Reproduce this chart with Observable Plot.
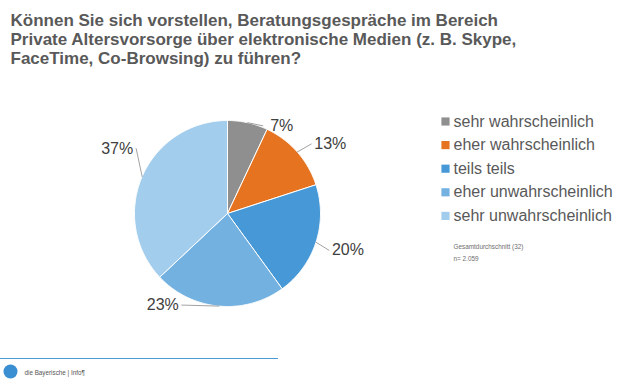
<!DOCTYPE html>
<html><head><meta charset="utf-8">
<script src="https://cdn.jsdelivr.net/npm/d3@7"></script>
<script src="https://cdn.jsdelivr.net/npm/@observablehq/plot@0.6"></script>
<style>
body{margin:0;background:#fff;}
#chart svg{display:block;font-family:"Liberation Sans",Arial,sans-serif;}
</style>
</head><body><div id="chart"></div>
<script>
const categories = ["sehr wahrscheinlich","eher wahrscheinlich","teils teils","eher unwahrscheinlich","sehr unwahrscheinlich"];
const values = [7,13,20,23,37];
const colors = ["#8f8f8f","#e5731f","#4699d6","#72b1e0","#a3cdec"];
const titleLines = [
  "Können Sie sich vorstellen, Beratungsgespräche im Bereich",
  "Private Altersvorsorge über elektronische Medien (z. B. Skype,",
  "FaceTime, Co-Browsing) zu führen?"
];
const noteLines = ["Gesamtdurchschnitt (32)","n= 2.059"];
const footerText = "die Bayerische | Info¶";

// layout
const W = 621, H = 383;
const cx = 227, cy = 213, R = 93;
// label nudges relative to slice edge (layout only)
const labelDx = [34, 33, 32, -56, -25];
const labelDy = [3, -8, 8, -1, -28];

const pie = d3.pie().sort(null).value(d => d.value)(categories.map((c,i)=>({cat:c,value:values[i]})));
const polys = [];
pie.forEach(s => {
  polys.push({cat:s.data.cat, x:cx, y:cy});
  const n = Math.max(2, Math.ceil((s.endAngle - s.startAngle) / 0.01));
  for (let k=0;k<=n;k++){
    const a = s.startAngle + (s.endAngle - s.startAngle)*k/n;
    polys.push({cat:s.data.cat, x:cx + R*Math.sin(a), y:cy - R*Math.cos(a)});
  }
  polys.push({cat:s.data.cat, x:cx, y:cy});
});
const labels = pie.map((s,i) => {
  const a = (s.startAngle + s.endAngle)/2;
  const ex = cx + R*Math.sin(a), ey = cy - R*Math.cos(a);
  const lx = ex + labelDx[i], ly = ey + labelDy[i];
  const side = labelDx[i] > 0 ? -1 : 1;
  return {cat:s.data.cat, text: s.data.value + "%", ex, ey, lx, ly, nx: lx + side*19, ny: ly};
});
const leaders = labels.flatMap(l => [{cat:l.cat,x:l.ex,y:l.ey},{cat:l.cat,x:l.nx,y:l.ny}]);
const legend = categories.map((c,i)=>({cat:c, i}));

const chart = Plot.plot({
  width: W, height: H,
  margin: 0,
  x: {domain:[0,W], range:[0,W], axis:null},
  y: {domain:[0,H], range:[0,H], axis:null},
  color: {domain: categories, range: colors},
  marks: [
    Plot.text(titleLines, {x: 10, y: (d,i)=> 25 + i*19, text: d=>d, textAnchor:"start", lineAnchor:"bottom", fontSize:17, fontWeight:"bold", fill:"#595959"}),
    Plot.line(polys, {x:"x", y:"y", z:"cat", fill:"cat", stroke:"white", strokeWidth:1, curve:"linear"}),
    Plot.line(leaders, {x:"x", y:"y", z:"cat", stroke:"#8a8a8a", strokeWidth:0.8}),
    Plot.text(labels, {x:"lx", y:"ly", text:"text", fontSize:16, fill:"#404040", textAnchor:"middle", lineAnchor:"middle"}),
    Plot.dot(legend, {x: 445, y: d => 121 + d.i*23.6, symbol:"square", r:4.6, fill:"cat", stroke:null}),
    Plot.text(legend, {x: 453, y: d => 121 + d.i*23.6, text:"cat", fontSize:16, fill:"#595959", textAnchor:"start", lineAnchor:"middle"}),
    Plot.text(noteLines, {x: 453, y: (d,i)=> 246 + i*12, text:d=>d, fontSize:6.4, fill:"#6e6e6e", textAnchor:"start", lineAnchor:"middle"}),
    Plot.ruleY([358], {x1: 0, x2: 278, stroke:"#4a9ad6", strokeWidth:1}),
    Plot.dot([0], {x: 10, y: 371, r: 7, fill:"#3a8fd3", stroke:null}),
    Plot.text([footerText], {x: 24, y: 372, text:d=>d, fontSize:6.3, fill:"#555", textAnchor:"start", lineAnchor:"middle"})
  ]
});
document.getElementById("chart").appendChild(chart);
</script>
</body></html>
